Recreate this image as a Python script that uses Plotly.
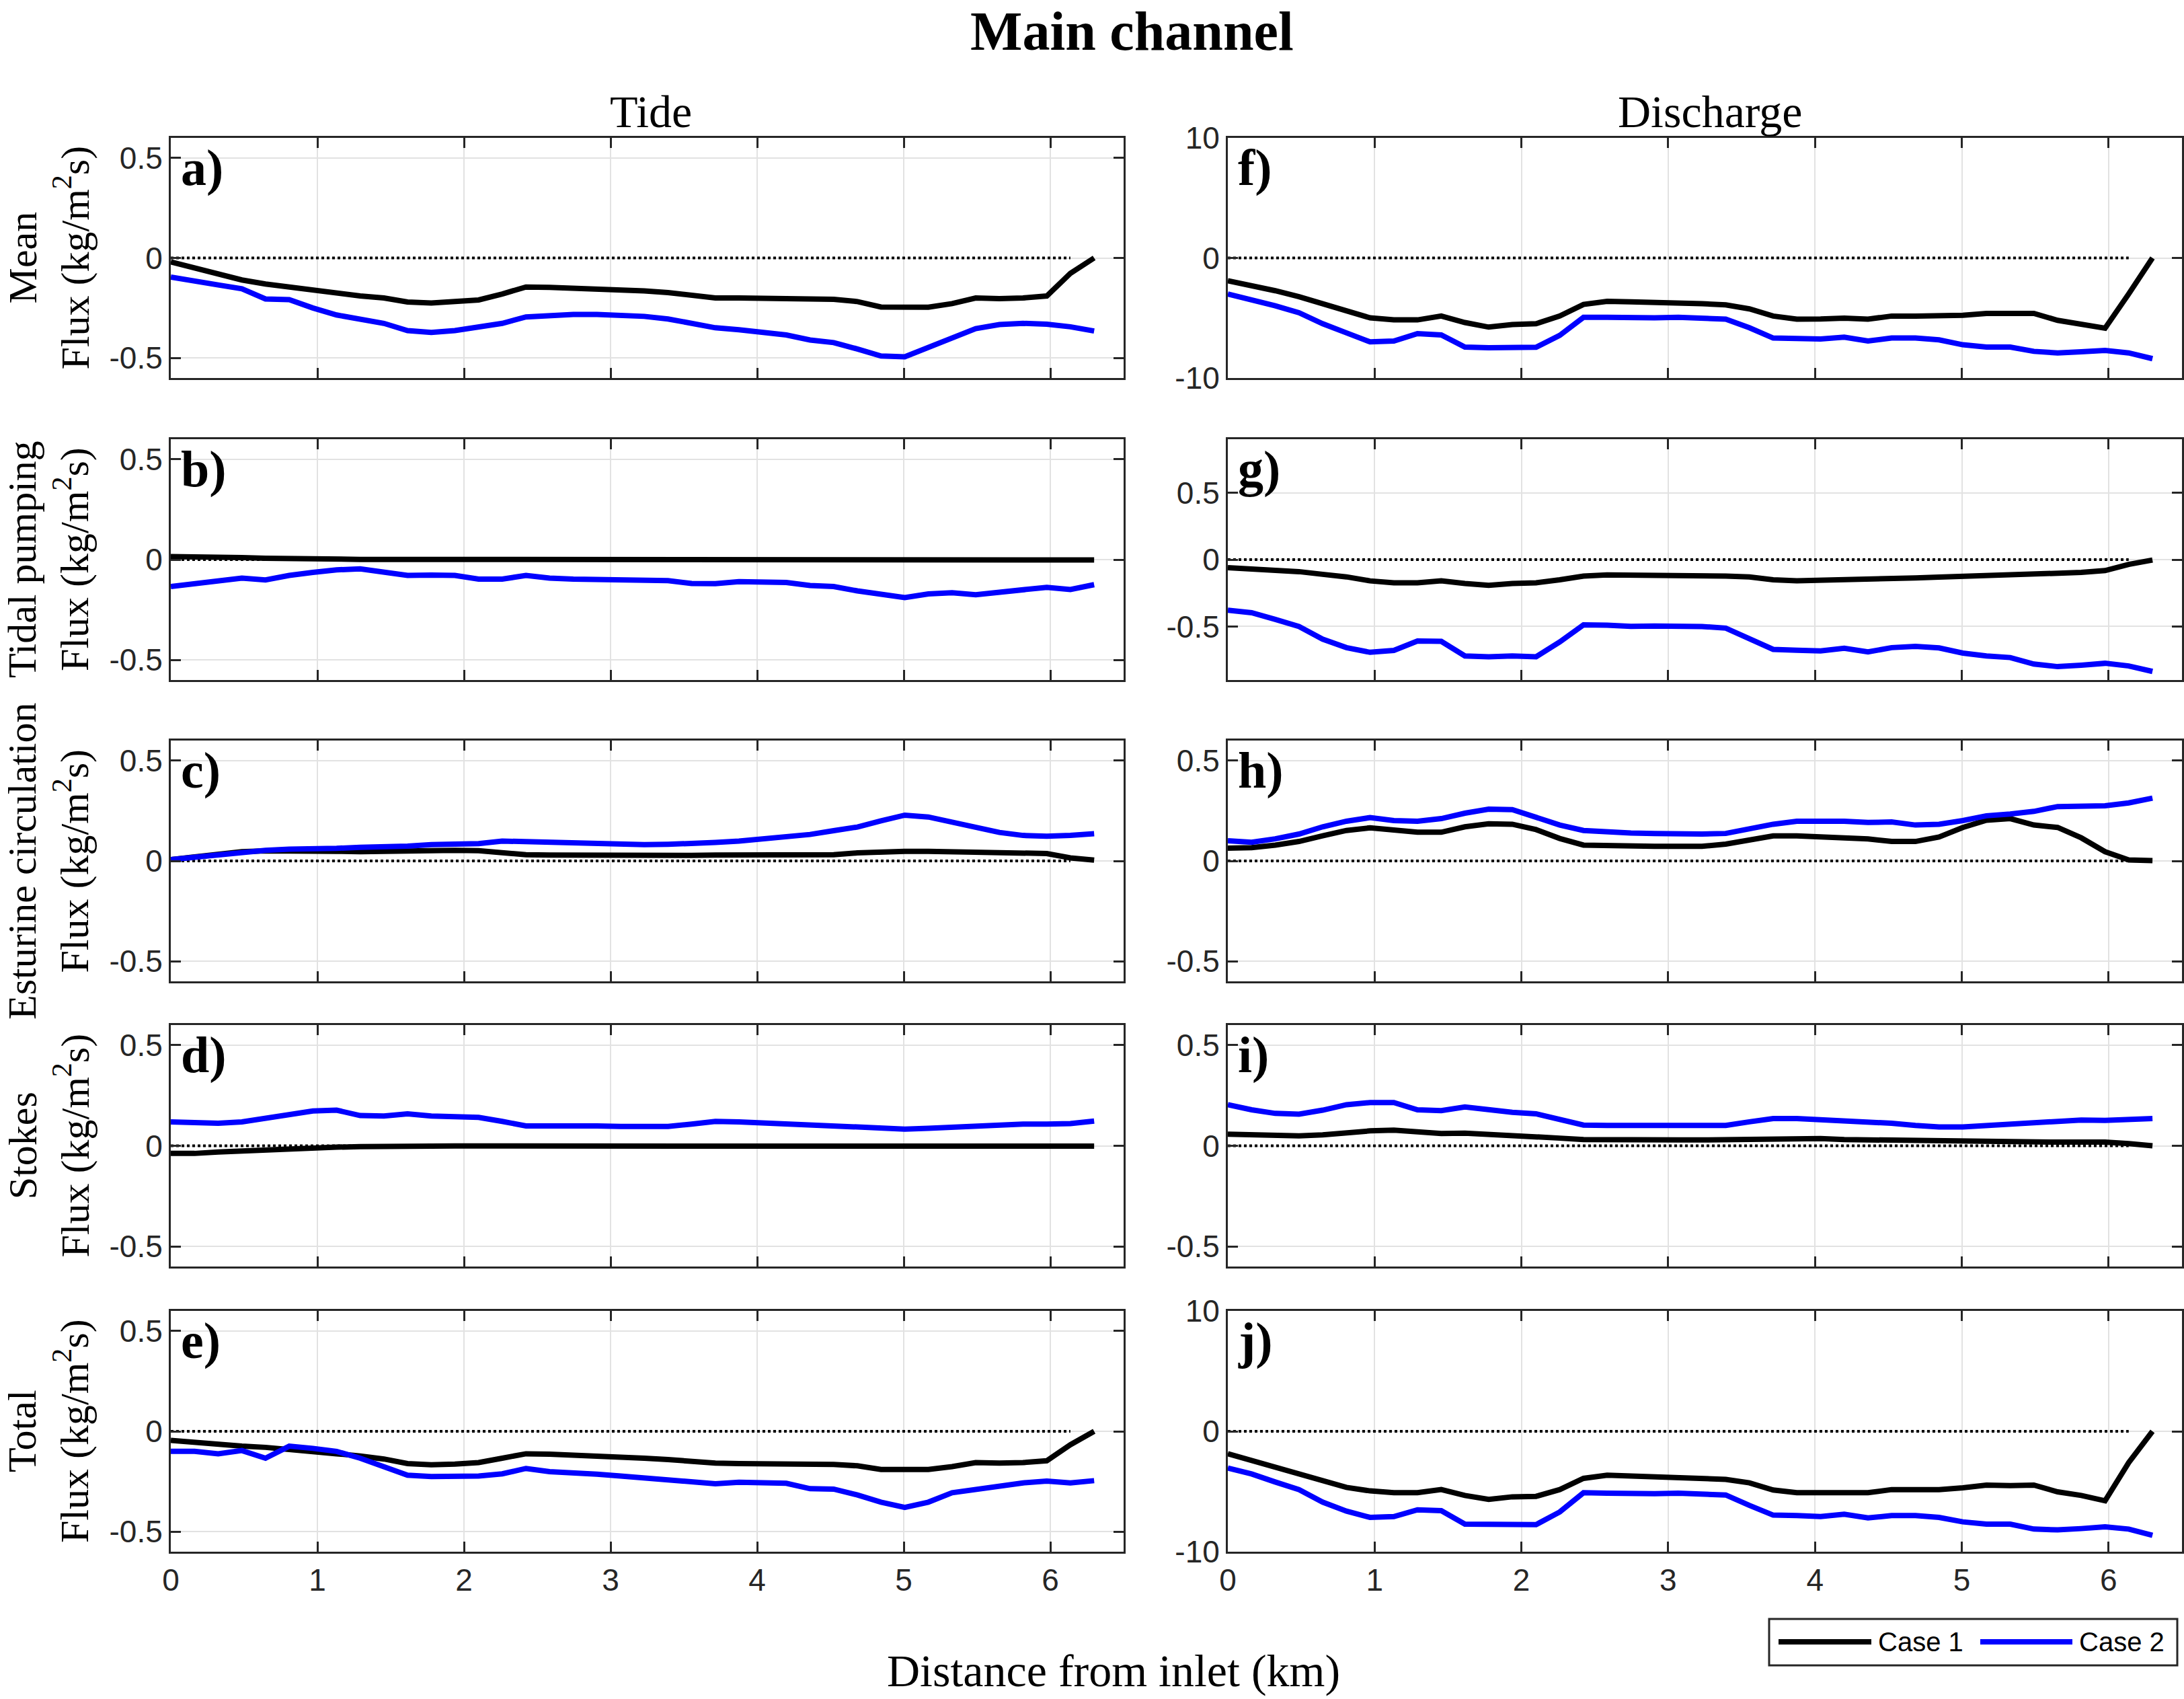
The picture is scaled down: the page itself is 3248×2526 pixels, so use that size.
import plotly.graph_objects as go

# --- figure geometry (pixels of the original figure) ---
W, H = 3248, 2526
COL_PX = [(254, 1671), (1826, 3245)]
ROW_PX = [(205, 562), (653, 1011), (1101, 1459), (1524, 1883), (1949, 2307)]

SERIF = "Liberation Serif, Times New Roman, serif"
SANS = "Liberation Sans, Arial, sans-serif"
AXIS_COLOR = "#262626"
CASE_COLORS = ["black", "#0000ff"]

# --- data ---
DIST_KM = [0.0, 0.162, 0.323, 0.485, 0.646, 0.808, 0.969, 1.131, 1.292, 1.454,
           1.615, 1.777, 1.938, 2.100, 2.261, 2.423, 2.584, 2.746, 2.907, 3.069,
           3.230, 3.392, 3.553, 3.715, 3.876, 4.038, 4.199, 4.361, 4.522, 4.684,
           4.845, 5.007, 5.168, 5.330, 5.491, 5.653, 5.814, 5.976, 6.137, 6.299]
X_TICKS = [0, 1, 2, 3, 4, 5, 6]
CASE_NAMES = ["Case 1", "Case 2"]

# Tide column
TIDE_MEAN_C1 = [-0.02, -0.05, -0.083, -0.11, -0.13, -0.145, -0.165, -0.18, -0.19, -0.2,
                -0.22, -0.225, -0.22, -0.21, -0.18, -0.145, -0.147, -0.15, -0.155, -0.158,
                -0.165, -0.173, -0.185, -0.2, -0.2, -0.2, -0.2, -0.205, -0.207, -0.218,
                -0.245, -0.246, -0.246, -0.228, -0.2, -0.203, -0.2, -0.19, -0.077, 0.0]
TIDE_MEAN_C2 = [-0.096, -0.113, -0.135, -0.154, -0.205, -0.208, -0.25, -0.285, -0.308, -0.327,
                -0.363, -0.372, -0.363, -0.344, -0.327, -0.295, -0.288, -0.282, -0.282, -0.286,
                -0.292, -0.305, -0.327, -0.349, -0.359, -0.372, -0.385, -0.41, -0.423, -0.455,
                -0.49, -0.494, -0.449, -0.397, -0.353, -0.333, -0.327, -0.331, -0.344, -0.365]
TIDE_PUMP_C1 = [0.015, 0.015, 0.013, 0.010, 0.007, 0.004, 0.002, 0.001, 0.001, 0.001,
                0.001, 0.001, 0.002, 0.002, 0.002, 0.002, 0.002, 0.002, 0.002, 0.002,
                0.002, 0.002, 0.002, 0.002, 0.002, 0.002, 0.002, 0.002, 0.002, 0.002,
                0.002, 0.002, 0.002, 0.002, 0.002, 0.002, 0.002, 0.001, 0.001, -0.002]
TIDE_PUMP_C2 = [-0.134, -0.12, -0.11, -0.092, -0.101, -0.079, -0.064, -0.051, -0.046, -0.061,
                -0.079, -0.077, -0.079, -0.097, -0.097, -0.079, -0.092, -0.097, -0.1, -0.103,
                -0.107, -0.105, -0.119, -0.12, -0.11, -0.11, -0.114, -0.129, -0.134, -0.156,
                -0.175, -0.189, -0.171, -0.165, -0.175, -0.164, -0.151, -0.138, -0.149, -0.125]
TIDE_ESTU_C1 = [0.007, 0.022, 0.035, 0.046, 0.05, 0.051, 0.051, 0.048, 0.046, 0.048,
                0.051, 0.055, 0.053, 0.051, 0.04, 0.031, 0.029, 0.028, 0.028, 0.028,
                0.028, 0.028, 0.028, 0.029, 0.029, 0.03, 0.03, 0.031, 0.031, 0.04,
                0.046, 0.048, 0.048, 0.046, 0.04, 0.04, 0.04, 0.037, 0.015, 0.004]
TIDE_ESTU_C2 = [0.007, 0.018, 0.031, 0.044, 0.053, 0.059, 0.059, 0.063, 0.068, 0.07,
                0.074, 0.081, 0.081, 0.086, 0.099, 0.096, 0.09, 0.086, 0.083, 0.081,
                0.081, 0.083, 0.086, 0.092, 0.099, 0.108, 0.118, 0.132, 0.151, 0.169,
                0.2, 0.228, 0.219, 0.193, 0.164, 0.142, 0.127, 0.123, 0.127, 0.136]
TIDE_STOKES_C1 = [-0.038, -0.038, -0.031, -0.025, -0.020, -0.016, -0.011, -0.007, -0.004, -0.002,
                  -0.001, -0.001, -0.001, -0.001, -0.001, -0.001, -0.001, -0.001, -0.001, -0.001,
                  0.0, 0.0, 0.0, 0.0, 0.0, 0.0, 0.0, 0.0, 0.0, 0.0,
                  0.0, 0.0, 0.0, 0.0, 0.0, 0.0, 0.0, 0.0, -0.001, -0.002]
TIDE_STOKES_C2 = [0.119, 0.117, 0.112, 0.119, 0.137, 0.159, 0.173, 0.177, 0.15, 0.148,
                  0.159, 0.148, 0.143, 0.141, 0.121, 0.099, 0.099, 0.101, 0.099, 0.096,
                  0.096, 0.096, 0.108, 0.121, 0.119, 0.114, 0.108, 0.103, 0.099, 0.09,
                  0.083, 0.083, 0.087, 0.092, 0.096, 0.105, 0.108, 0.108, 0.11, 0.123]
TIDE_TOTAL_C1 = [-0.045, -0.056, -0.063, -0.074, -0.080, -0.089, -0.100, -0.112, -0.123, -0.138,
                 -0.161, -0.167, -0.163, -0.156, -0.134, -0.112, -0.114, -0.118, -0.123, -0.127,
                 -0.134, -0.141, -0.150, -0.158, -0.161, -0.161, -0.162, -0.163, -0.165, -0.172,
                 -0.190, -0.190, -0.190, -0.176, -0.156, -0.158, -0.156, -0.147, -0.067, 0.0]
TIDE_TOTAL_C2 = [-0.1, -0.1, -0.112, -0.096, -0.134, -0.074, -0.085, -0.1, -0.134, -0.174,
                 -0.219, -0.225, -0.225, -0.223, -0.212, -0.185, -0.201, -0.205, -0.214, -0.223,
                 -0.232, -0.237, -0.248, -0.261, -0.254, -0.257, -0.259, -0.286, -0.288, -0.317,
                 -0.353, -0.379, -0.353, -0.306, -0.29, -0.272, -0.257, -0.248, -0.257, -0.246]

# Discharge column
DIS_MEAN_C1 = [-1.9, -2.26, -2.73, -3.23, -3.83, -4.37, -4.99, -5.16, -5.16, -4.84,
               -5.38, -5.76, -5.55, -5.48, -4.84, -3.87, -3.61, -3.66, -3.68, -3.70,
               -3.81, -3.91, -4.24, -4.84, -5.1, -5.08, -5.01, -5.1, -4.84, -4.84,
               -4.84, -4.77, -4.62, -4.67, -4.62, -5.2, -5.48, -5.85, -3.0, 0.0]
DIS_MEAN_C2 = [-3.0, -3.44, -3.98, -4.56, -5.48, -6.24, -6.99, -6.92, -6.3, -6.41,
               -7.42, -7.48, -7.42, -7.44, -6.45, -4.95, -4.95, -5.01, -4.99, -4.95,
               -5.01, -5.1, -5.81, -6.67, -6.71, -6.75, -6.6, -6.92, -6.67, -6.67,
               -6.82, -7.23, -7.42, -7.42, -7.78, -7.91, -7.81, -7.7, -7.91, -8.39]
DIS_PUMP_C1 = [-0.06, -0.068, -0.077, -0.09, -0.11, -0.129, -0.159, -0.173, -0.173, -0.159,
               -0.178, -0.192, -0.178, -0.173, -0.151, -0.123, -0.115, -0.115, -0.118, -0.118,
               -0.12, -0.123, -0.129, -0.151, -0.159, -0.156, -0.151, -0.151, -0.142, -0.137,
               -0.131, -0.126, -0.118, -0.11, -0.104, -0.104, -0.096, -0.082, -0.036, -0.003]
DIS_PUMP_C2 = [-0.378, -0.397, -0.447, -0.5, -0.595, -0.658, -0.693, -0.679, -0.608, -0.611,
               -0.72, -0.726, -0.72, -0.726, -0.616, -0.488, -0.49, -0.499, -0.496, -0.496,
               -0.5, -0.512, -0.589, -0.671, -0.677, -0.682, -0.663, -0.69, -0.658, -0.649,
               -0.66, -0.699, -0.72, -0.732, -0.781, -0.8, -0.789, -0.775, -0.795, -0.836]
DIS_ESTU_C1 = [0.064, 0.066, 0.079, 0.097, 0.125, 0.152, 0.165, 0.156, 0.143, 0.143,
               0.17, 0.185, 0.183, 0.156, 0.112, 0.079, 0.075, 0.075, 0.073, 0.073,
               0.073, 0.084, 0.106, 0.125, 0.125, 0.121, 0.114, 0.11, 0.097, 0.097,
               0.119, 0.167, 0.203, 0.211, 0.179, 0.167, 0.115, 0.046, 0.005, 0.002]
DIS_ESTU_C2 = [0.101, 0.093, 0.11, 0.134, 0.17, 0.198, 0.216, 0.201, 0.198, 0.211,
               0.238, 0.258, 0.256, 0.22, 0.179, 0.152, 0.143, 0.139, 0.137, 0.134,
               0.134, 0.137, 0.161, 0.183, 0.198, 0.201, 0.198, 0.192, 0.194, 0.179,
               0.183, 0.201, 0.225, 0.234, 0.247, 0.271, 0.271, 0.275, 0.289, 0.313]
DIS_STOKES_C1 = [0.058, 0.056, 0.049, 0.049, 0.054, 0.065, 0.074, 0.078, 0.067, 0.061,
                 0.063, 0.058, 0.052, 0.047, 0.038, 0.031, 0.029, 0.029, 0.029, 0.029,
                 0.029, 0.031, 0.036, 0.038, 0.038, 0.036, 0.031, 0.029, 0.027, 0.025,
                 0.022, 0.022, 0.02, 0.018, 0.018, 0.018, 0.018, 0.018, 0.011, 0.0]
DIS_STOKES_C2 = [0.204, 0.179, 0.161, 0.157, 0.177, 0.204, 0.215, 0.215, 0.179, 0.175,
                 0.193, 0.177, 0.166, 0.159, 0.13, 0.103, 0.101, 0.101, 0.101, 0.099,
                 0.099, 0.101, 0.119, 0.135, 0.135, 0.13, 0.123, 0.119, 0.112, 0.101,
                 0.094, 0.094, 0.101, 0.108, 0.117, 0.126, 0.128, 0.126, 0.128, 0.135]
DIS_TOTAL_C1 = [-1.86, -2.42, -2.98, -3.54, -4.1, -4.66, -4.95, -5.1, -5.1, -4.84,
                -5.33, -5.66, -5.44, -5.4, -4.84, -3.91, -3.65, -3.72, -3.76, -3.76,
                -3.87, -3.99, -4.28, -4.88, -5.1, -5.1, -4.99, -5.1, -4.84, -4.84,
                -4.84, -4.69, -4.47, -4.51, -4.47, -5.03, -5.33, -5.77, -2.6, 0.0]
DIS_TOTAL_C2 = [-3.05, -3.54, -4.21, -4.84, -5.88, -6.63, -7.15, -7.08, -6.52, -6.59,
                -7.71, -7.75, -7.71, -7.75, -6.7, -5.1, -5.14, -5.21, -5.18, -5.14,
                -5.21, -5.29, -6.15, -6.96, -7.0, -7.08, -6.89, -7.19, -7.0, -7.0,
                -7.15, -7.52, -7.71, -7.71, -8.12, -8.19, -8.08, -7.93, -8.12, -8.64]

ROW_LABELS = ["Mean", "Tidal pumping", "Esturine circulation", "Stokes", "Total"]
SMALL_TICKS = [-0.5, 0, 0.5]
SMALL_TEXT = ["-0.5", "0", "0.5"]
BIG_TICKS = [-10, 0, 10]
BIG_TEXT = ["-10", "0", "10"]

# (letter, case1, case2, yrange, tickvals, ticktext), left column first
panels = [
    ("a)", TIDE_MEAN_C1, TIDE_MEAN_C2, [-0.6, 0.6], SMALL_TICKS, SMALL_TEXT),
    ("b)", TIDE_PUMP_C1, TIDE_PUMP_C2, [-0.6, 0.6], SMALL_TICKS, SMALL_TEXT),
    ("c)", TIDE_ESTU_C1, TIDE_ESTU_C2, [-0.6, 0.6], SMALL_TICKS, SMALL_TEXT),
    ("d)", TIDE_STOKES_C1, TIDE_STOKES_C2, [-0.6, 0.6], SMALL_TICKS, SMALL_TEXT),
    ("e)", TIDE_TOTAL_C1, TIDE_TOTAL_C2, [-0.6, 0.6], SMALL_TICKS, SMALL_TEXT),
    ("f)", DIS_MEAN_C1, DIS_MEAN_C2, [-10, 10], BIG_TICKS, BIG_TEXT),
    ("g)", DIS_PUMP_C1, DIS_PUMP_C2, [-0.9, 0.9], SMALL_TICKS, SMALL_TEXT),
    ("h)", DIS_ESTU_C1, DIS_ESTU_C2, [-0.6, 0.6], SMALL_TICKS, SMALL_TEXT),
    ("i)", DIS_STOKES_C1, DIS_STOKES_C2, [-0.6, 0.6], SMALL_TICKS, SMALL_TEXT),
    ("j)", DIS_TOTAL_C1, DIS_TOTAL_C2, [-10, 10], BIG_TICKS, BIG_TEXT),
]

fig = go.Figure()
layout_axes = {}
annotations = []
shapes = []

for i, (letter, case1, case2, yrange, tvals, ttext) in enumerate(panels):
    n = i + 1
    col, row = i // 5, i % 5
    xname = "x" if n == 1 else f"x{n}"
    yname = "y" if n == 1 else f"y{n}"
    x0, x1 = COL_PX[col]
    y0, y1 = ROW_PX[row]

    # dotted zero reference (stops one sample short of the last point)
    fig.add_trace(go.Scatter(x=[DIST_KM[0], DIST_KM[-2]], y=[0, 0], xaxis=xname, yaxis=yname,
                             mode="lines", line=dict(color="black", width=4, dash="4px,4px"),
                             showlegend=False, hoverinfo="skip"))
    for name, color, vals in zip(CASE_NAMES, CASE_COLORS, [case1, case2]):
        fig.add_trace(go.Scatter(x=DIST_KM, y=vals, xaxis=xname, yaxis=yname, mode="lines",
                                 line=dict(color=color, width=8), name=name, showlegend=False))

    common = dict(showline=True, linecolor=AXIS_COLOR, linewidth=3, mirror="allticks",
                  ticks="inside", ticklen=15, tickwidth=3, tickcolor=AXIS_COLOR,
                  showgrid=True, gridcolor="#e2e2e2", gridwidth=2, zeroline=False,
                  tickfont=dict(family=SANS, size=46, color=AXIS_COLOR), automargin=False)
    layout_axes["xaxis" if n == 1 else f"xaxis{n}"] = dict(
        domain=[x0 / W, x1 / W], anchor=yname, range=[0, 6.5], tickvals=X_TICKS,
        showticklabels=(row == 4), **common)
    layout_axes["yaxis" if n == 1 else f"yaxis{n}"] = dict(
        domain=[1 - y1 / H, 1 - y0 / H], anchor=xname, range=yrange,
        tickvals=tvals, ticktext=ttext, **common)

    annotations.append(dict(text=f"<b>{letter}</b>", xref=f"{xname} domain", yref=f"{yname} domain",
                            x=0.009, y=1.0, xanchor="left", yanchor="top", showarrow=False,
                            font=dict(family=SERIF, size=76, color="black")))
    if col == 0:
        annotations.append(dict(text=f"{ROW_LABELS[row]}<br>Flux (kg/m<sup>2</sup>s)",
                                xref="paper", yref=f"{yname} domain", x=72 / W, y=0.5,
                                xanchor="center", yanchor="middle", textangle=-90,
                                showarrow=False, font=dict(family=SERIF, size=60, color="black")))

annotations += [
    dict(text="<b>Main channel</b>", xref="paper", yref="paper", x=1684 / W, y=1 - 46 / H,
         xanchor="center", yanchor="middle", showarrow=False,
         font=dict(family=SERIF, size=82, color="black")),
    dict(text="Tide", xref="paper", yref="paper", x=968 / W, y=1 - 166 / H,
         xanchor="center", yanchor="middle", showarrow=False,
         font=dict(family=SERIF, size=68, color="black")),
    dict(text="Discharge", xref="paper", yref="paper", x=2543 / W, y=1 - 166 / H,
         xanchor="center", yanchor="middle", showarrow=False,
         font=dict(family=SERIF, size=68, color="black")),
    dict(text="Distance from inlet (km)", xref="paper", yref="paper", x=1656 / W, y=1 - 2484 / H,
         xanchor="center", yanchor="middle", showarrow=False,
         font=dict(family=SERIF, size=68, color="black")),
]

# legend box drawn like the MATLAB one (long line samples)
LEG_BOX = (2631, 2407, 3238, 2476)
LEG_ITEMS = [(2645, 2783, 2791), (2945, 3082, 3090)]  # line start, line end, text start
LEG_YC = 2441
shapes.append(dict(type="rect", xref="paper", yref="paper",
                   x0=LEG_BOX[0] / W, x1=LEG_BOX[2] / W, y0=1 - LEG_BOX[3] / H, y1=1 - LEG_BOX[1] / H,
                   line=dict(color=AXIS_COLOR, width=3), fillcolor="white"))
for (lx0, lx1, tx), name, color in zip(LEG_ITEMS, CASE_NAMES, CASE_COLORS):
    shapes.append(dict(type="line", xref="paper", yref="paper", x0=lx0 / W, x1=lx1 / W,
                       y0=1 - LEG_YC / H, y1=1 - LEG_YC / H, line=dict(color=color, width=8)))
    annotations.append(dict(text=name, xref="paper", yref="paper", x=tx / W, y=1 - LEG_YC / H,
                            xanchor="left", yanchor="middle", showarrow=False,
                            font=dict(family=SANS, size=40, color="black")))

fig.update_layout(
    width=W, height=H,
    margin=dict(l=0, r=0, t=0, b=0),
    plot_bgcolor="white", paper_bgcolor="white",
    showlegend=False,
    annotations=annotations,
    shapes=shapes,
    **layout_axes,
)

fig.write_html("out.html", config={"displayModeBar": False},
               post_script="document.body.style.margin='0';")
